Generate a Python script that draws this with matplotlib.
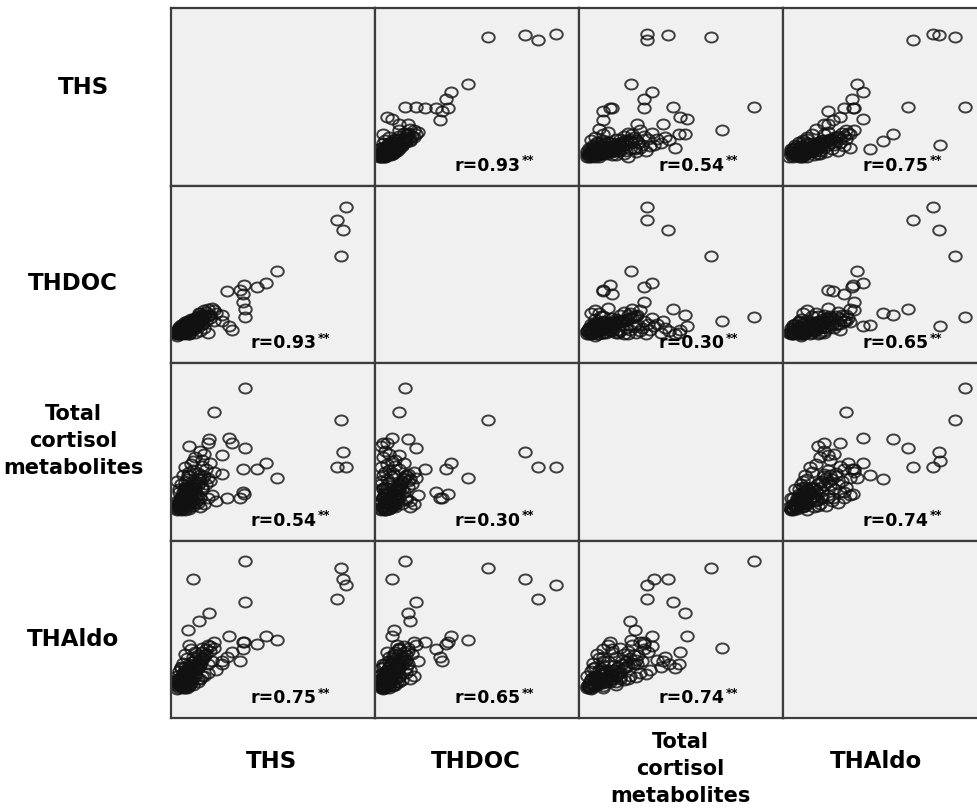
import numpy as np
import matplotlib
matplotlib.use("Agg")
import matplotlib.pyplot as plt
from matplotlib.path import Path
from matplotlib.transforms import offset_copy

labels = ["THS", "THDOC", "Total\ncortisol\nmetabolites", "THAldo"]

# one entry per subject, same order in every list (scaled excretion, 0-100)
ths = [85.7, 81.5, 84.5, 83.2, 36.5, 52.0, 46.5, 42.0, 36.0, 27.5, 35.5, 34.0, 21.0,
       35.5, 11.0, 36.5, 18.5, 13.5, 8.5, 30.0, 18.0, 28.3, 25.0, 15.0, 3.0, 25.0,
       3, 4, 5, 4, 6, 5, 7, 6, 8, 7, 9, 8, 10, 9, 11, 10, 12, 11, 13, 12,
       14, 13, 15, 14, 16, 5, 6, 4, 7, 5, 8, 6, 9, 7, 10, 12, 14, 9, 16, 3,
       4, 5, 6, 8, 7, 10, 9, 12, 11, 15, 17, 19, 18, 21, 20, 22, 16, 14, 18, 13,
       11, 9, 7, 5, 6, 8, 10, 12, 3, 4, 5, 6, 8, 7, 9, 11, 13, 15, 17, 19,
       4, 6, 5, 8, 3, 7, 9, 6, 10, 4, 12, 8, 11, 5, 13, 7, 10, 14, 6, 9,
       3, 5, 4, 8, 11, 7, 12, 9, 13, 15]
thdoc = [88.7, 80.0, 73.3, 55.4, 14.6, 45.5, 37.5, 35.0, 36.0, 32.0, 30.0, 33.0, 12.0,
         24.5, 8.5, 20.0, 16.0, 17.0, 9.5, 6.0, 4.0, 8.5, 12.0, 10.0, 3.0, 16.0,
         3, 3, 4, 5, 5, 6, 6, 7, 7, 8, 8, 9, 9, 10, 10, 11, 11, 12, 12, 13,
         13, 14, 14, 15, 15, 4, 5, 4, 5, 3, 6, 4, 5, 3, 6, 4, 5, 3, 7, 5,
         6, 7, 8, 9, 10, 12, 11, 14, 13, 16, 18, 16, 20, 19, 21, 17, 19, 17, 15, 11,
         9, 7, 5, 5, 6, 8, 10, 12, 2, 3, 4, 5, 6, 7, 8, 7, 9, 10, 12, 14,
         6, 4, 8, 5, 5, 9, 6, 10, 7, 7, 9, 12, 6, 9, 10, 4, 13, 11, 7, 10,
         4, 3, 8, 4, 12, 11, 7, 3, 15, 12]
total_cortisol = [33.4, 33.4, 43.4, 64.9, 86.0, 25.5, 36.0, 31.8, 15.0, 12.0, 16.0, 12.0, 70.0,
                  32.0, 37.0, 46.0, 52.0, 25.0, 27.5, 49.5, 49.0, 52.7, 41.0, 38.0, 24.0, 28.5,
                  5, 6, 7, 5, 8, 10, 9, 12, 11, 14, 13, 16, 15, 18, 17, 20, 19, 22, 21, 24,
                  23, 26, 25, 28, 27, 12, 15, 18, 20, 22, 25, 28, 30, 33, 35, 40, 44, 47, 42, 4,
                  6, 8, 7, 10, 9, 12, 14, 16, 18, 20, 22, 24, 26, 30, 14, 10, 8, 6, 12, 9,
                  7, 5, 4, 9, 11, 13, 17, 21, 8, 10, 13, 16, 19, 23, 27, 31, 29, 34, 32, 36,
                  9, 6, 11, 7, 10, 8, 15, 13, 10, 16, 9, 18, 11, 7, 14, 19, 8, 12, 5, 6,
                  6, 4, 8, 12, 20, 17, 15, 9, 11, 18]
thaldo = [73.3, 63.9, 76.7, 84.1, 89.0, 36.1, 39.1, 33.6, 34.5, 24.5, 30.0, 22.0, 31.0,
          35.0, 77.0, 61.5, 54.0, 49.0, 42.5, 28.0, 20.0, 39.0, 22.0, 23.0, 10.0, 20.0,
          5, 4, 6, 7, 6, 8, 9, 7, 10, 12, 11, 13, 15, 12, 16, 14, 18, 17, 20, 19,
          22, 21, 24, 23, 26, 5, 8, 6, 10, 9, 12, 11, 14, 13, 16, 18, 20, 17, 25, 12,
          15, 18, 21, 24, 27, 30, 33, 28, 25, 31, 27, 29, 33, 35, 22, 16, 12, 10, 14, 8,
          6, 5, 4, 11, 13, 15, 19, 23, 9, 10, 8, 12, 15, 18, 20, 22, 26, 28, 30, 32,
          6, 9, 7, 11, 8, 5, 9, 14, 7, 10, 12, 8, 15, 17, 10, 14, 9, 19, 4, 6,
          3, 5, 10, 4, 11, 16, 13, 8, 17, 12]

r_values = {(0, 1): "0.93", (0, 2): "0.54", (0, 3): "0.75",
            (1, 2): "0.30", (1, 3): "0.65", (2, 3): "0.74"}

data = [np.array(ths), np.array(thdoc), np.array(total_cortisol), np.array(thaldo)]

W, H = 978, 812
fig = plt.figure(figsize=(W / 100, H / 100), dpi=100)
fig.patch.set_facecolor("white")

# slightly flattened open circle
circ = Path.unit_circle()
oval = Path(circ.vertices * np.array([1.0, 0.8]), circ.codes)

left, top = 171, 9
cw, ch = 204, 177.5

for i in range(4):
    for j in range(4):
        ax = fig.add_axes([(left + cw * j) / W, 1 - (top + ch * (i + 1)) / H, cw / W, ch / H])
        ax.set_facecolor("#f0f0f0")
        ax.set_xticks([]); ax.set_yticks([])
        for s in ax.spines.values():
            s.set_color("#3c3c3c"); s.set_linewidth(1.6)
        ax.set_xlim(0, 100)
        ax.set_ylim(-16.2, 102.8)   # room under the points for the r label
        if i == j:
            continue
        ax.plot(data[j], data[i], ls="none", marker=oval, ms=9.0, mfc="none",
                mec="#111111", mew=1.4, alpha=0.8)
        key = (min(i, j), max(i, j))
        ax.text(0.715, 0.118, "r=" + r_values[key], transform=ax.transAxes,
                ha="right", va="center", fontsize=12.5, fontweight="bold", zorder=5)
        tr = offset_copy(ax.transAxes, fig=fig, x=0.5, y=3.5, units="points")
        ax.text(0.715, 0.118, "**", transform=tr, ha="left", va="center",
                fontsize=8.5, fontweight="bold", zorder=5)

# variable names down the left side and along the bottom
row_y = [88, 283, 441, 640]
row_x = [84, 73, 73, 73]
for i, lab in enumerate(labels):
    fs = 15 if "\n" in lab else 16.5
    fig.text(row_x[i] / W, 1 - row_y[i] / H, lab, ha="center", va="center", fontsize=fs,
             fontweight="bold", linespacing=1.45)
col_x = [272, 476, 680, 876]
for j, lab in enumerate(labels):
    fs = 15 if "\n" in lab else 16.5
    yc = 769 if "\n" in lab else 762
    fig.text(col_x[j] / W, 1 - yc / H, lab, ha="center", va="center", fontsize=fs,
             fontweight="bold", linespacing=1.45)

fig.savefig("out.png", dpi=100, facecolor="white")
